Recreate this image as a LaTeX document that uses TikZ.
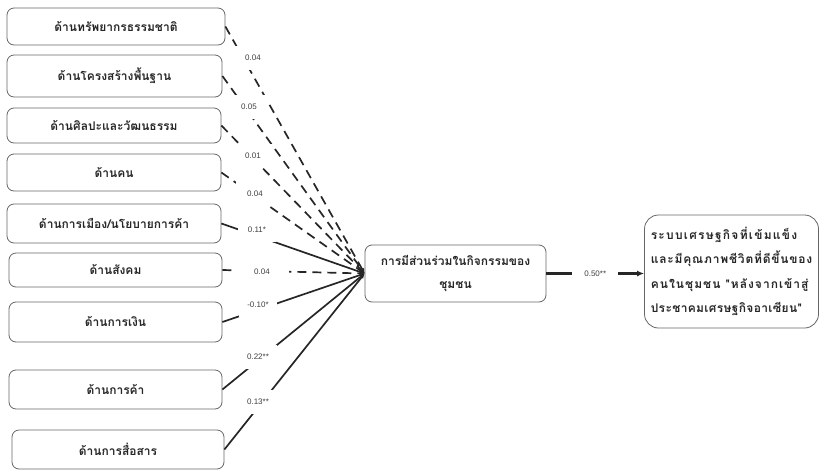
\documentclass[tikz,border=0pt]{standalone}
\usepackage{fontspec}
\setmainfont{Liberation Sans}
\newfontfamily\thaifont[Script=Thai]{Loma}
\usetikzlibrary{arrows.meta}
\newcommand{\spaced}[2]{{\addfontfeatures{LetterSpace=#1}#2}}

\begin{document}
\begin{tikzpicture}[x=1pt, y=-1pt,
  box/.style={draw=black!60, rounded corners=7pt, line width=0.8pt, text=black!85,
    font=\thaifont\bfseries\fontsize{12}{14}\selectfont},
  coef/.style={fill=white, text=black!75, inner sep=0pt, minimum width=38pt,
    minimum height=24pt, font=\fontsize{8}{9}\selectfont},
  solidlink/.style={line width=1.7pt, black!85, -{Latex[length=5pt,width=4.5pt]}},
  dashlink/.style={solidlink, dash pattern=on 9pt off 6pt}]
\useasboundingbox (0,0) rectangle (820,472);
\node[box, minimum width=218pt, minimum height=37pt] (A) at (116,26.5) {ด้านทรัพยากรธรรมชาติ};
\node[box, minimum width=215pt, minimum height=42pt] (B) at (114.5,76) {ด้านโครงสร้างพื้นฐาน};
\node[box, minimum width=214pt, minimum height=35pt] (C) at (114,125.5) {ด้านศิลปะและวัฒนธรรม};
\node[box, minimum width=214pt, minimum height=37pt] (D) at (114,172.5) {ด้านคน};
\node[box, minimum width=214pt, minimum height=39pt] (E) at (114,223.5) {ด้านการเมือง/นโยบายการค้า};
\node[box, minimum width=213pt, minimum height=34pt] (F) at (115.5,270) {ด้านสังคม};
\node[box, minimum width=213pt, minimum height=40pt] (G) at (115.5,322) {ด้านการเงิน};
\node[box, minimum width=213pt, minimum height=39pt] (H) at (115.5,389.5) {ด้านการค้า};
\node[box, minimum width=212pt, minimum height=39pt] (I) at (118,449.5) {ด้านการสื่อสาร};
\node[box, minimum width=181pt, minimum height=57pt, align=center,
  font=\thaifont\bfseries\fontsize{12}{23}\selectfont] (M) at (455.5,273.5)
  {การมีส่วนร่วมในกิจกรรมของ\\ชุมชน};
\node[box, minimum width=174pt, minimum height=113pt, rounded corners=14pt, align=left,
  font=\thaifont\bfseries\fontsize{12}{24.5}\selectfont] (R) at (731.5,271.5)
  {\spaced{10.5}{ระบบเศรษฐกิจที่เข้มแข็ง}\\\spaced{6.6}{และมีคุณภาพชีวิตที่ดีขึ้นของ}\\
   \spaced{8.4}{คนในชุมชน "หลังจากเข้าสู่}\\\spaced{2.8}{ประชาคมเศรษฐกิจอาเซียน"}};
\draw[dashlink] (A.east) -- (M.west);
\draw[dashlink] (B.east) -- (M.west);
\draw[dashlink] (C.east) -- (M.west);
\draw[dashlink] (D.east) -- (M.west);
\draw[solidlink] (E.east) -- (M.west);
\draw[dashlink] (F.east) -- (M.west);
\draw[solidlink] (G.east) -- (M.west);
\draw[solidlink] (H.east) -- (M.west);
\draw[solidlink] (I.east) -- (M.west);
\node[coef] (a) at (253,58) {0.04};
\node[coef] (b) at (249,107) {0.05};
\node[coef] (c) at (253,156) {0.01};
\node[coef] (d) at (255,194) {0.04};
\node[coef] (e) at (257,230) {0.11*};
\node[coef, minimum width=54pt] (f) at (262,272) {0.04};
\node[coef] (g) at (258,305) {-0.10*};
\node[coef] (h) at (258,357) {0.22**};
\node[coef] (i) at (258,402) {0.13**};
\draw[line width=2.2pt, black!85, -{Latex[length=7pt,width=6pt]}] (M.east) --
  node[coef, minimum width=46pt] (j) {0.50**} (M.east -| R.west);
\end{tikzpicture}
\end{document}
